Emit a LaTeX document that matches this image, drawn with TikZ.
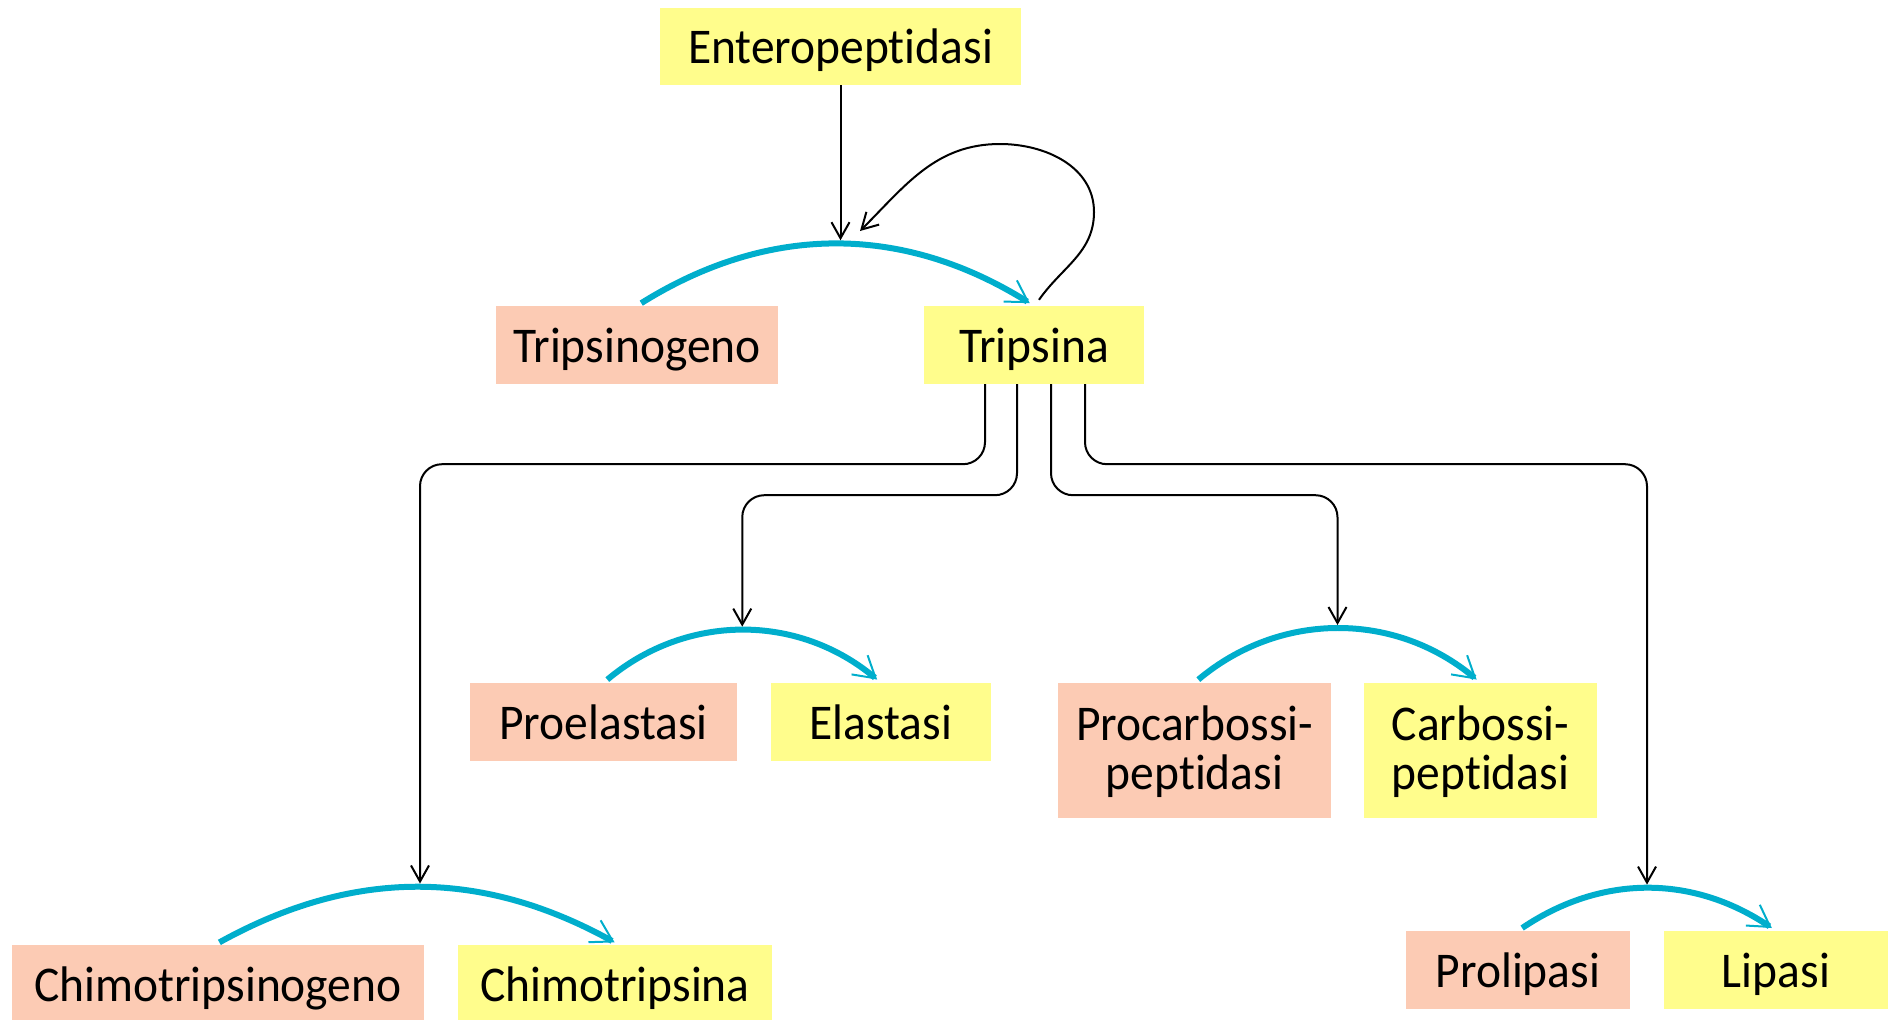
\documentclass[tikz,border=0pt]{standalone}
\usepackage{fontspec}
\setmainfont{Carlito}[FakeStretch=0.95,Ligatures={NoCommon}]
\usetikzlibrary{arrows.meta,calc}
\definecolor{pinkbox}{RGB}{252,203,180}
\definecolor{yellowbox}{RGB}{255,253,140}
\definecolor{arccyan}{RGB}{0,174,204}
\tikzset{
  box/.style={inner sep=0pt, minimum height=78pt, text height=34pt, text depth=0pt, font=\fontsize{50}{50}\selectfont, align=center},
  twoline/.style={minimum height=135pt, text height=84pt, text depth=7pt},
  pro/.style={box, fill=pinkbox},
  enz/.style={box, fill=yellowbox},
  conv/.style={draw=arccyan, line width=6pt, -{Straight Barb[length=21pt,width=25pt,line width=2pt]}, shorten <=5pt, shorten >=5pt},
  act/.style={draw=black, line width=2pt, -{Straight Barb[length=16pt,width=18pt,line width=2pt]}},
}
\begin{document}
\begin{tikzpicture}[x=1pt,y=-1pt]
\useasboundingbox (0,0) rectangle (1888,1020);
% boxes
\node[enz, minimum width=361pt, minimum height=77pt] (ent) at (840.5,46.5) {Enteropeptidasi};
\node[pro, minimum width=282pt] (tgen) at (637,345) {Tripsinogeno};
\node[enz, minimum width=220pt] (tri) at (1034,345) {Tripsina};
\node[pro, minimum width=267pt] (pela) at (603.5,722) {Proelastasi};
\node[enz, minimum width=220pt] (ela) at (881,722) {Elastasi};
\node[pro, twoline, minimum width=273pt] (pcar) at (1194.5,750.5) {Procarbossi-\\[-1pt]peptidasi};
\node[enz, twoline, minimum width=233pt] (car) at (1480.5,750.5) {Carbossi-\\[-1pt]peptidasi};
\node[pro, minimum width=412pt] (chg) at (218,984) {Chimotripsinogeno};
\node[enz, minimum width=314pt] (chi) at (615,984) {Chimotripsina};
\node[pro, minimum width=224pt] (plip) at (1518,970) {Prolipasi};
\node[enz, minimum width=224pt] (lip) at (1776,970) {Lipasi};
% conversion arcs
\draw[conv] (tgen.north) to[bend left=32] coordinate[pos=0.5] (pk1) (tri.north);
\draw[conv] (pela.north) to[bend left=40] coordinate[pos=0.5] (pk2) (ela.north);
\draw[conv] (pcar.north) to[bend left=40] coordinate[pos=0.5] (pk3) (car.north);
\draw[conv] ([xshift=-3pt]chg.north) to[bend left=29] coordinate[pos=0.5] (pk4) ([xshift=4pt]chi.north);
\draw[conv] (plip.north) to[bend left=34] coordinate[pos=0.5] (pk5) (lip.north);
% activation arrows
\draw[act] (ent.south) -- ([yshift=4pt]ent.south |- pk1);
\coordinate (loopend) at (860,231);
\draw[act] ([xshift=5pt,yshift=6pt]tri.north) to[out=55,in=-90] (1094,212) to[out=90,in=0] (1000,144) to[out=180,in=45] (loopend);
\draw[act, rounded corners=22pt] ([xshift=-49pt]tri.south) -- ++(0,80) -| ([xshift=3pt,yshift=4pt]pk4);
\draw[act, rounded corners=22pt] ([xshift=-17pt]tri.south) -- ++(0,111) -| ([yshift=4pt]pk2);
\draw[act, rounded corners=22pt] ([xshift=17pt]tri.south) -- ++(0,111) -| ([yshift=4pt]pk3);
\draw[act, rounded corners=22pt] ([xshift=51pt]tri.south) -- ++(0,80) -| ([yshift=4pt]pk5);
\end{tikzpicture}
\end{document}
